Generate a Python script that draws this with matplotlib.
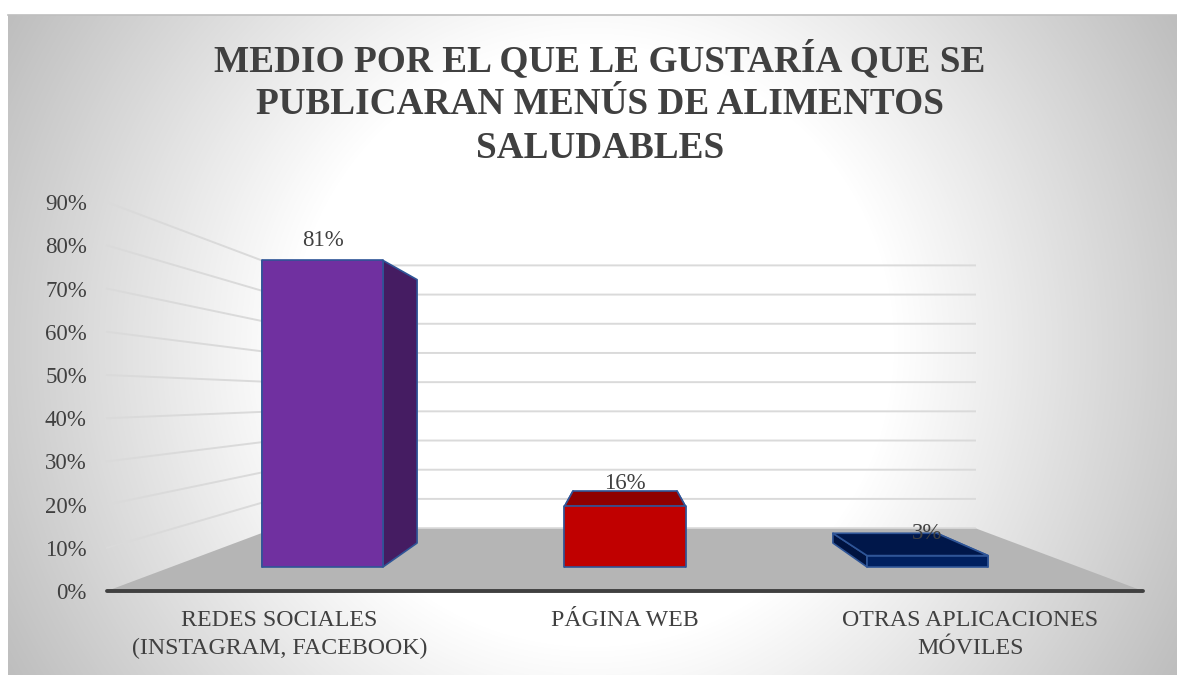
import numpy as np
import matplotlib
matplotlib.use('Agg')
import matplotlib.pyplot as plt
from matplotlib.colors import LinearSegmentedColormap

plt.rcParams['font.family'] = ['Liberation Serif', 'DejaVu Serif']

title = 'MEDIO POR EL QUE LE GUSTARÍA QUE SE\nPUBLICARAN MENÚS DE ALIMENTOS\nSALUDABLES'
categories = ['REDES SOCIALES\n(INSTAGRAM, FACEBOOK)', 'PÁGINA WEB', 'OTRAS APLICACIONES\nMÓVILES']
values = [81, 16, 3]
yticks = [0, 10, 20, 30, 40, 50, 60, 70, 80, 90]

front_colors = ['#7030A0', '#C00000', '#002060']
top_colors = ['#4A1F68', '#8F0000', '#00174A']
side_colors = ['#451C62', '#7A0000', '#001340']
label_lift = [20, 23, 22]

TEXT = '#404040'
EDGE = '#2F5597'
GRID = '#DADADA'
FLOOR = '#B5B5B5'

# perspective of the 3d box, in data units of the front plane
VANISH_X = 1.5
VANISH_Y = 44.9
WALL_S = 0.6757
BAR_FRONT_S = 0.876
BAR_BACK_S = 0.7526
BAR_WIDTH = 0.4


def proj(x, v, s):
    return VANISH_X + (x - VANISH_X) * s, VANISH_Y + (v - VANISH_Y) * s


def face(ax, corners, color, z):
    pts = [proj(*c) for c in corners]
    ax.fill([p[0] for p in pts], [p[1] for p in pts], facecolor=color, edgecolor=EDGE,
            linewidth=1.2, joinstyle='round', zorder=z, clip_on=False)


fig = plt.figure(figsize=(11.77, 6.75), dpi=100, facecolor='white')

# radial grey background
bg = fig.add_axes([8 / 1177, 0, 1169 / 1177, 660 / 675], zorder=0)
yy, xx = np.mgrid[0:660, 0:1169]
r = np.hypot(xx - 584, yy - 330)
shade = np.clip((r - 300) / (675 - 300), 0, 1)
cmap = LinearSegmentedColormap.from_list('bg', ['#FFFFFF', '#BDBDBD'])
bg.imshow(shade, cmap=cmap, vmin=0, vmax=1, aspect='auto')
bg.axis('off')
fig.add_artist(plt.Line2D([8 / 1177, 1], [660 / 675, 660 / 675], color='#BFBFBF', lw=1.2))

ax = fig.add_axes([107 / 1177, 84 / 675, 1036 / 1177, 388.8 / 675], zorder=1)
ax.patch.set_visible(False)
ax.set_xlim(0, 3)
ax.set_ylim(0, 90)

# floor
pts = [proj(0, 0, 1), proj(3, 0, 1), proj(3, 0, WALL_S), proj(0, 0, WALL_S)]
ax.fill([p[0] for p in pts], [p[1] for p in pts], color=FLOOR, lw=0, zorder=1, clip_on=False)

# walls
for t in yticks[1:]:
    a = proj(0, t, 1)
    b = proj(0, t, WALL_S)
    c = proj(3, t, WALL_S)
    ax.plot([a[0], b[0], c[0]], [a[1], b[1], c[1]], color=GRID, lw=1.4, zorder=2, clip_on=False)
b = proj(0, 0, WALL_S)
c = proj(3, 0, WALL_S)
ax.plot([b[0], c[0]], [b[1], c[1]], color=GRID, lw=1.2, zorder=2, clip_on=False)

for i, v in enumerate(values):
    x0 = i + 0.5 - BAR_WIDTH / 2
    x1 = i + 0.5 + BAR_WIDTH / 2
    f = BAR_FRONT_S
    k = BAR_BACK_S
    face(ax, [(x0, 0, f), (x0, v, f), (x0, v, k), (x0, 0, k)], side_colors[i], 3)
    face(ax, [(x1, 0, f), (x1, v, f), (x1, v, k), (x1, 0, k)], side_colors[i], 3)
    # the top is only seen on bars lower than the eye line
    if v < VANISH_Y:
        face(ax, [(x0, v, f), (x1, v, f), (x1, v, k), (x0, v, k)], top_colors[i], 4)
    face(ax, [(x0, 0, f), (x1, 0, f), (x1, v, f), (x0, v, f)], front_colors[i], 5)
    lx, ly = proj(i + 0.5, v, 0.875)
    ax.annotate(f'{v}%', (lx, ly), xytext=(0, label_lift[i] * 0.72), textcoords='offset points',
                ha='center', va='center', fontsize=16.5, color=TEXT, zorder=6, annotation_clip=False)

ax.set_yticks(yticks)
ax.set_yticklabels([f'{t}%' for t in yticks], fontsize=16.5, color=TEXT)
ax.set_xticks([0.5, 1.5, 2.5])
ax.set_xticklabels(categories, fontsize=17.2, color=TEXT, linespacing=1.4)
ax.tick_params(axis='y', length=0, pad=14.5)
ax.tick_params(axis='x', length=0, pad=14)

for s in ['top', 'left', 'right']:
    ax.spines[s].set_visible(False)
ax.spines['bottom'].set_linewidth(2.8)
ax.spines['bottom'].set_color(TEXT)
ax.spines['bottom'].set_capstyle('round')
ax.spines['bottom'].set_zorder(7)

fig.text(600 / 1177, 1 - 103 / 675, title, ha='center', va='center', fontsize=26.8,
         fontweight='bold', color=TEXT, linespacing=1.31)

plt.savefig('out.png', dpi=100)
plt.close()
